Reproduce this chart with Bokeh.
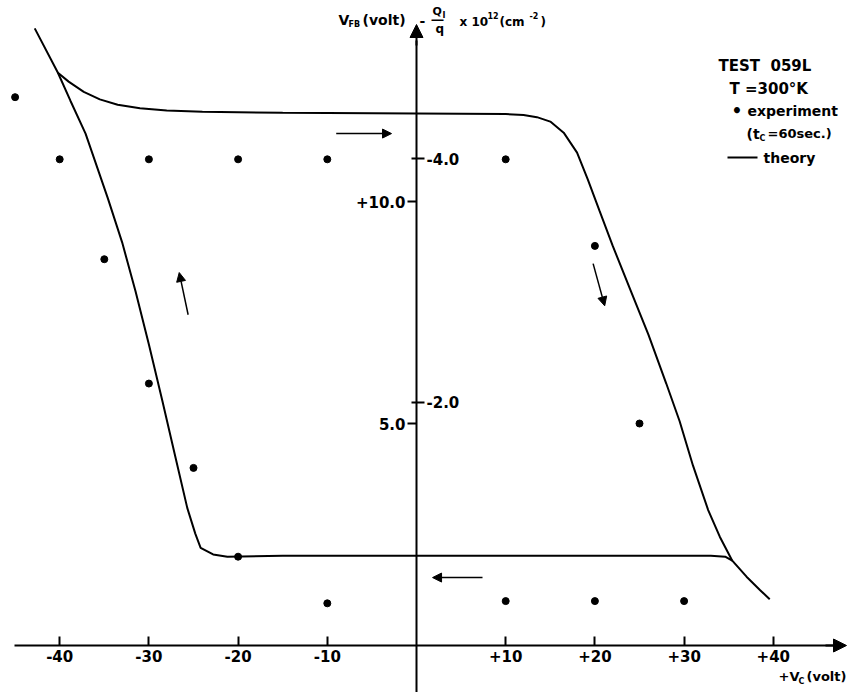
from bokeh.plotting import figure
from bokeh.models import Range1d, LinearAxis, FixedTicker, Arrow, NormalHead, Label, BoxAnnotation
from bokeh.embed import file_html
from bokeh.resources import INLINE

# ---------------- data ----------------
# experiment (t_C = 60 sec.)
vc_exp = [-45, -40, -30, -20, -10, 10, 20, 25, 30, 20, 10, -10, -20, -25, -30, -35]
vfb_exp = [12.35, 10.95, 10.95, 10.95, 10.95, 10.95, 9.0, 5.0, 1.0, 1.0, 1.0, 0.95, 2.0, 4.0, 5.9, 8.7]

# theory: sweep toward positive V_C (upper branch)
theory_up_vc = [-40.2, -39.0, -37.3, -35.5, -33.5, -31.0, -28.0, -24.0, -15.0, 0.0, 10.0, 12.0,
                13.5, 15.0, 16.5, 18.0, 19.2, 20.5, 22.0, 24.0, 26.0, 28.0, 29.5, 31.0, 32.7,
                34.0, 35.4, 37.0, 38.5, 39.6]
theory_up_vfb = [12.90, 12.70, 12.47, 12.30, 12.18, 12.10, 12.05, 12.02, 12.00, 11.98, 11.97, 11.95,
                 11.90, 11.80, 11.55, 11.10, 10.50, 9.80, 9.00, 8.00, 7.00, 5.90, 5.05, 4.05, 3.05,
                 2.45, 1.91, 1.55, 1.25, 1.04]
# theory: sweep toward negative V_C (lower branch)
theory_down_vc = [35.4, 34.6, 33.0, 20.0, 0.0, -15.0, -21.2, -22.8, -24.2, -24.8, -25.7, -27.2,
                  -28.5, -30.0, -31.5, -33.0, -34.6, -37.1, -38.8, -40.2, -42.8]
theory_down_vfb = [1.91, 2.00, 2.02, 2.02, 2.02, 2.02, 2.00, 2.05, 2.20, 2.52, 3.10, 4.39,
                   5.52, 6.78, 7.98, 9.08, 10.07, 11.53, 12.27, 12.90, 13.90]

# sweep-direction arrows (tail -> head), data units
dir_x0 = [-9.0, 7.4, 19.8, -25.6]
dir_y0 = [11.53, 1.53, 8.6, 7.45]
dir_x1 = [-2.8, 1.8, 21.1, -26.6]
dir_y1 = [11.53, 1.53, 7.65, 8.4]

x_ticks = [-40, -30, -20, -10, 10, 20, 30, 40]
x_tick_labels = ["-40", "-30", "-20", "-10", "+10", "+20", "+30", "+40"]
y_ticks = [5, 10]
y_tick_labels = ["5.0", "+10.0"]
q_ticks = [-4, -2]
q_tick_labels = ["-4.0", "-2.0"]

# ---------------- layout ----------------
W, H = 851, 692
X0_PX, XS = 416.0, 8.92      # pixel of V_C = 0, pixels per volt
Y0_PX, YS = 645.0, 44.4      # pixel of V_FB = 0, pixels per volt
QS = 121.75                  # pixels per 1e12 cm^-2

def X(px):
    return (px - X0_PX) / XS

def Y(py):
    return (Y0_PX - py) / YS

FONT = "DejaVu Sans"
STYLE = "bold"

p = figure(width=W, height=H,
           x_range=Range1d(X(0), X(W)), y_range=Range1d(Y(H), Y(0)),
           x_axis_type=None, y_axis_type=None,
           toolbar_location=None, output_backend="svg",
           min_border=0, outline_line_color=None, background_fill_color="white")

p.extra_y_ranges = {"q": Range1d(start=(H - Y0_PX) / QS, end=-Y0_PX / QS)}

common = dict(axis_line_width=2, major_tick_line_width=2,
              minor_tick_in=0, minor_tick_out=0,
              major_label_text_font=FONT, major_label_text_font_size="15px",
              major_label_text_font_style=STYLE,
              major_label_text_color="black", axis_line_color="black",
              major_tick_line_color="black")

xaxis = LinearAxis(fixed_location=0, ticker=FixedTicker(ticks=x_ticks),
                   major_label_overrides=dict(zip(x_ticks, x_tick_labels)),
                   major_tick_in=9, major_tick_out=0, major_label_standoff=4,
                   bounds=(X(14), X(835)), **common)
p.add_layout(xaxis, "below")

yaxis = LinearAxis(fixed_location=0, ticker=FixedTicker(ticks=y_ticks),
                   major_label_overrides=dict(zip(y_ticks, y_tick_labels)),
                   major_tick_in=0, major_tick_out=9, major_label_standoff=2,
                   bounds=(Y(H), Y(40)), **common)
p.add_layout(yaxis, "left")

qaxis = LinearAxis(fixed_location=0, y_range_name="q", ticker=FixedTicker(ticks=q_ticks),
                   major_label_overrides=dict(zip(q_ticks, q_tick_labels)),
                   major_tick_in=5, major_tick_out=8, major_label_standoff=2, **common)
qaxis.axis_line_color = None
p.add_layout(qaxis, "right")

# axis arrow heads
p.add_layout(Arrow(end=NormalHead(size=13, fill_color="black", line_color="black"),
                   x_start=X(825), y_start=0, x_end=X(846), y_end=0, line_width=2))
p.add_layout(Arrow(end=NormalHead(size=13, fill_color="black", line_color="black"),
                   x_start=0, y_start=Y(45), x_end=0, y_end=Y(24), line_width=2))

# theory curves
p.line(theory_up_vc, theory_up_vfb, line_color="black", line_width=2)
p.line(theory_down_vc, theory_down_vfb, line_color="black", line_width=2)

# experiment points
p.scatter(vc_exp, vfb_exp, size=7, color="black")

# direction arrows
for x0, y0, x1, y1 in zip(dir_x0, dir_y0, dir_x1, dir_y1):
    p.add_layout(Arrow(end=NormalHead(size=9, fill_color="black", line_color="black"),
                       x_start=x0, y_start=y0, x_end=x1, y_end=y1, line_width=1.5))

def txt(s, px, py, size=15, align="left"):
    p.add_layout(Label(x=X(px), y=Y(py), text=s, text_font=FONT, text_font_style=STYLE,
                       text_font_size=f"{size}px", text_align=align,
                       text_baseline="middle", text_color="black"))

# y-axis title
txt("V", 338, 19, 14)
txt("FB", 348, 24, 8)
txt("(volt)", 362, 19, 14)
txt("-", 419, 20, 14)
txt("Q", 432, 11, 11)
txt("I", 442, 15, 8)
txt("\u2015", 431, 19, 12)
txt("q", 435, 28, 12)
txt("x\u00a010", 459, 21, 12)
txt("12", 487, 15, 8)
txt("(cm", 499, 21, 12)
txt("-2", 529, 15, 8)
txt(")", 540, 21, 12)

# x-axis title
txt("+V", 778, 676, 13)
txt("C", 798, 681, 8)
txt("(volt)", 806, 676, 13)

# legend
txt("TEST\u00a0\u00a0059L", 718, 65, 15)
txt("T =300\u00b0K", 729, 88, 15)
txt("\u2022", 731, 110, 17)
txt("experiment", 747, 110, 14)
txt("(t", 746, 133, 14)
txt("C", 759, 138, 8)
txt("=60sec.)", 767, 133, 13)
p.add_layout(BoxAnnotation(left=X(727), right=X(757), top=Y(156), bottom=Y(158),
                           fill_color="black", fill_alpha=1, line_color=None))
txt("theory", 763, 157, 14)

open("out.html", "w").write(file_html(p, INLINE))
